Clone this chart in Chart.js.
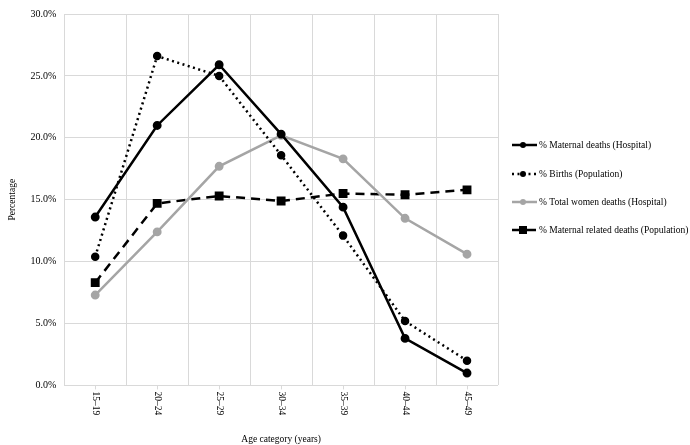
<!DOCTYPE html>
<html>
<head>
<meta charset="utf-8">
<script src="https://cdn.jsdelivr.net/npm/chart.js@4.4.1/dist/chart.umd.min.js"></script>
<style>
  html, body { margin: 0; padding: 0; background: #fff; }
  #wrap { width: 690px; height: 445px; }
</style>
</head>
<body>
<div id="wrap"><canvas id="ageChart"></canvas></div>
<script>
var ageCategories = ['15-19', '20-24', '25-29', '30-34', '35-39', '40-44', '45-49'];
var maternalDeathsHospital = [13.6, 21.0, 25.9, 20.3, 14.4, 3.8, 1.0];
var birthsPopulation = [10.4, 26.6, 25.0, 18.6, 12.1, 5.2, 2.0];
var totalWomenDeathsHospital = [7.3, 12.4, 17.7, 20.2, 18.3, 13.5, 10.6];
var maternalRelatedDeathsPopulation = [8.3, 14.7, 15.3, 14.9, 15.5, 15.4, 15.8];
var yTicks = [0, 5, 10, 15, 20, 25, 30];

var serif = '"Liberation Serif", "Times New Roman", serif';

// x labels read top to bottom, so they are drawn by hand (plus the small tick marks)
var rotatedLabels = {
    id: 'rotatedLabels',
    afterDraw: function (chart) {
        var ctx = chart.ctx;
        var xScale = chart.scales.x;
        var bottom = chart.chartArea.bottom;
        ctx.save();
        ctx.strokeStyle = '#d9d9d9';
        ctx.lineWidth = 1;
        ctx.font = '9.5px ' + serif;
        ctx.fillStyle = '#000';
        ctx.textAlign = 'left';
        ctx.textBaseline = 'middle';
        ageCategories.forEach(function (label, i) {
            var x = Math.round(xScale.getPixelForValue(i)) + 0.5;
            ctx.beginPath();
            ctx.moveTo(x, bottom);
            ctx.lineTo(x, bottom + 4);
            ctx.stroke();
            ctx.save();
            ctx.translate(x, bottom + 6);
            ctx.rotate(Math.PI / 2);
            ctx.fillText(label.replace('-', '\u2013'), 0, 0);
            ctx.restore();
        });
        ctx.restore();
    }
};

// legend on the right with line samples
var sideLegend = {
    id: 'sideLegend',
    afterDraw: function (chart) {
        var ctx = chart.ctx;
        var rows = [145, 174, 202, 230];
        ctx.save();
        chart.data.datasets.forEach(function (ds, i) {
            var y = rows[i];
            ctx.strokeStyle = ds.borderColor;
            ctx.lineWidth = ds.borderWidth;
            ctx.setLineDash(ds.borderDash || []);
            ctx.beginPath();
            ctx.moveTo(512, y);
            ctx.lineTo(537, y);
            ctx.stroke();
            ctx.setLineDash([]);
            ctx.fillStyle = ds.pointBackgroundColor;
            if (ds.pointStyle === 'rect') {
                ctx.fillRect(523 - 4, y - 4, 8, 8);
            } else {
                ctx.beginPath();
                ctx.arc(523, y, 3, 0, Math.PI * 2);
                ctx.fill();
            }
            ctx.fillStyle = '#000';
            ctx.font = '9.5px ' + serif;
            ctx.textAlign = 'left';
            ctx.textBaseline = 'middle';
            ctx.fillText(ds.label, 539, y);
        });
        ctx.restore();
    }
};

var ctx = document.getElementById('ageChart').getContext('2d');

new Chart(ctx, {
    type: 'line',
    data: {
        labels: ageCategories,
        datasets: [{
            label: '% Maternal deaths (Hospital)',
            data: maternalDeathsHospital,
            borderColor: '#000',
            pointBackgroundColor: '#000',
            pointBorderColor: '#000',
            borderWidth: 2.5,
            pointRadius: 3.2,
            pointStyle: 'circle',
            tension: 0
        }, {
            label: '% Births (Population)',
            data: birthsPopulation,
            borderColor: '#000',
            pointBackgroundColor: '#000',
            pointBorderColor: '#000',
            borderWidth: 2.5,
            borderDash: [2, 3.5],
            pointRadius: 3,
            pointStyle: 'circle',
            tension: 0
        }, {
            label: '% Total women deaths (Hospital)',
            data: totalWomenDeathsHospital,
            borderColor: '#a5a5a5',
            pointBackgroundColor: '#a5a5a5',
            pointBorderColor: '#a5a5a5',
            borderWidth: 2.5,
            pointRadius: 3.2,
            pointStyle: 'circle',
            tension: 0
        }, {
            label: '% Maternal related deaths (Population)',
            data: maternalRelatedDeathsPopulation,
            borderColor: '#000',
            pointBackgroundColor: '#000',
            pointBorderColor: '#000',
            borderWidth: 2.5,
            borderDash: [9, 6],
            pointRadius: 4.5,
            pointStyle: 'rect',
            tension: 0
        }]
    },
    options: {
        responsive: true,
        maintainAspectRatio: false,
        animation: false,
        layout: {
            padding: { left: 3, right: 192, top: 14, bottom: 0 }
        },
        plugins: {
            legend: { display: false },
            tooltip: { enabled: false }
        },
        scales: {
            x: {
                offset: true,
                grid: { offset: true, color: '#d9d9d9', lineWidth: 1, drawTicks: false },
                border: { display: false },
                ticks: {
                    color: 'rgba(0,0,0,0)',
                    minRotation: 90,
                    maxRotation: 90,
                    padding: 6,
                    font: { family: serif, size: 9.5 }
                },
                title: {
                    display: true,
                    text: 'Age category (years)',
                    color: '#000',
                    font: { family: serif, size: 9.5 },
                    padding: { top: 14, bottom: 0 }
                }
            },
            y: {
                min: 0,
                max: 30,
                afterBuildTicks: function (scale) {
                    scale.ticks = yTicks.map(function (v) { return { value: v }; });
                },
                grid: { color: '#d9d9d9', lineWidth: 1, drawTicks: false },
                border: { display: false },
                ticks: {
                    color: '#000',
                    padding: 8,
                    font: { family: serif, size: 10 },
                    callback: function (value) { return value.toFixed(1) + '%'; }
                },
                title: {
                    display: true,
                    text: 'Percentage',
                    color: '#000',
                    font: { family: serif, size: 9.5 },
                    padding: { top: 4, bottom: 4 }
                }
            }
        }
    },
    plugins: [rotatedLabels, sideLegend]
});
</script>
</body>
</html>
